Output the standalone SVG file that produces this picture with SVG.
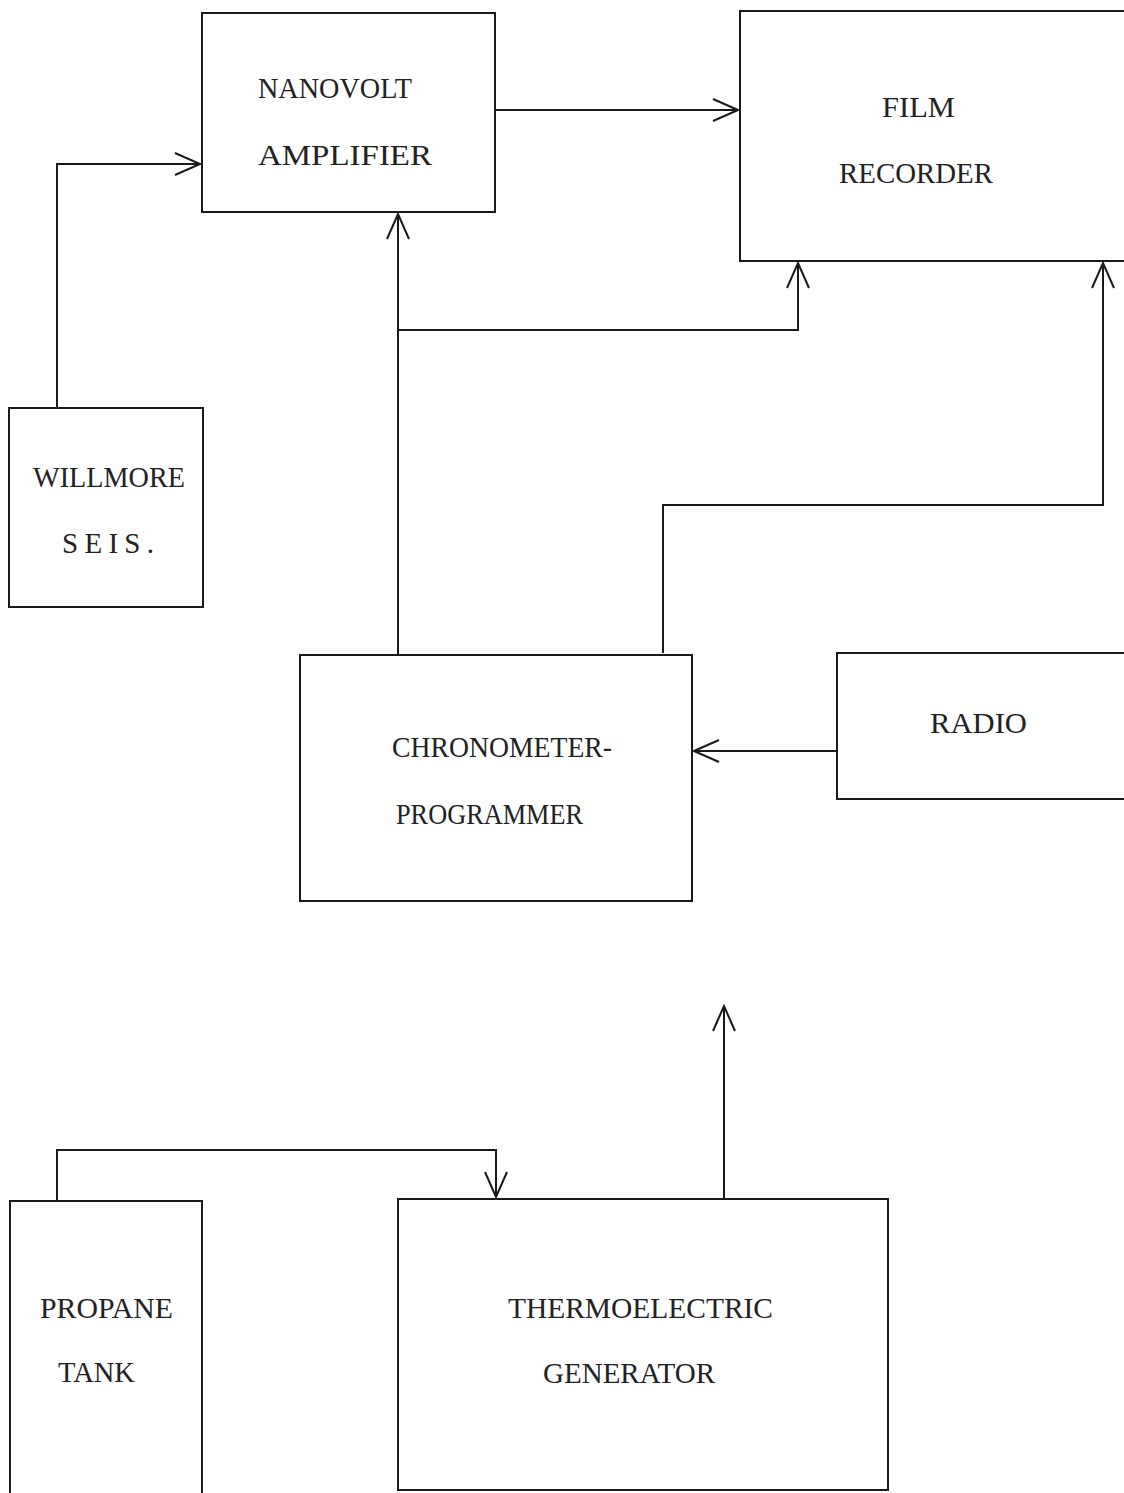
<svg xmlns="http://www.w3.org/2000/svg" width="1124" height="1493" viewBox="0 0 1124 1493">
<style>
.box{fill:none;stroke:#1a1a1a;stroke-width:2}
.ln{fill:none;stroke:#1a1a1a;stroke-width:2;marker-end:url(#arr)}
.t{font-family:"Liberation Serif","DejaVu Serif",serif;font-size:29px;fill:#222}
</style>
<defs>
<marker id="arr" markerUnits="userSpaceOnUse" markerWidth="30" markerHeight="30" viewBox="-28 -14 30 28" refX="0" refY="0" orient="auto">
<path d="M-25,-11 L0,0 L-25,11" fill="none" stroke="#1a1a1a" stroke-width="2"/>
</marker>
</defs>
<rect width="1124" height="1493" fill="#fff"/>
<g id="connectors">
<path class="ln" d="M496,110 L738,110"/>
<path class="ln" d="M57,408 L57,164 L200,164"/>
<path class="ln" d="M398,655 L398,214"/>
<path class="ln" d="M398,330 L798,330 L798,263"/>
<path class="ln" d="M663,653 L663,505 L1103,505 L1103,263"/>
<path class="ln" d="M837,751 L694,751"/>
<path class="ln" d="M724,1198 L724,1006"/>
<path class="ln" d="M57,1200 L57,1150 L496,1150 L496,1197"/>
</g>
<g id="nanovolt-amplifier">
<rect class="box" x="202" y="13" width="293" height="199"/>
<text class="t" x="258" y="98" textLength="154" lengthAdjust="spacingAndGlyphs">NANOVOLT</text>
<text class="t" x="258" y="165" textLength="174" lengthAdjust="spacingAndGlyphs">AMPLIFIER</text>
</g>
<g id="film-recorder">
<rect class="box" x="740" y="11" width="400" height="250"/>
<text class="t" x="882" y="117" textLength="73" lengthAdjust="spacingAndGlyphs">FILM</text>
<text class="t" x="839" y="183" textLength="154" lengthAdjust="spacingAndGlyphs">RECORDER</text>
</g>
<g id="willmore-seis">
<rect class="box" x="9" y="408" width="194" height="199"/>
<text class="t" x="33" y="487" textLength="152" lengthAdjust="spacingAndGlyphs">WILLMORE</text>
<text class="t" x="62" y="553" textLength="92" lengthAdjust="spacing">SEIS.</text>
</g>
<g id="chronometer-programmer">
<rect class="box" x="300" y="655" width="392" height="246"/>
<text class="t" x="392" y="757" textLength="220" lengthAdjust="spacingAndGlyphs">CHRONOMETER-</text>
<text class="t" x="396" y="824" textLength="187" lengthAdjust="spacingAndGlyphs">PROGRAMMER</text>
</g>
<g id="radio">
<rect class="box" x="837" y="653" width="300" height="146"/>
<text class="t" x="930" y="733" textLength="97" lengthAdjust="spacingAndGlyphs">RADIO</text>
</g>
<g id="propane-tank">
<rect class="box" x="10" y="1201" width="192" height="310"/>
<text class="t" x="40" y="1318" textLength="133" lengthAdjust="spacingAndGlyphs">PROPANE</text>
<text class="t" x="58" y="1382" textLength="77" lengthAdjust="spacingAndGlyphs">TANK</text>
</g>
<g id="thermoelectric-generator">
<rect class="box" x="398" y="1199" width="490" height="291"/>
<text class="t" x="508" y="1318" textLength="265" lengthAdjust="spacingAndGlyphs">THERMOELECTRIC</text>
<text class="t" x="543" y="1383" textLength="172" lengthAdjust="spacingAndGlyphs">GENERATOR</text>
</g>
</svg>
